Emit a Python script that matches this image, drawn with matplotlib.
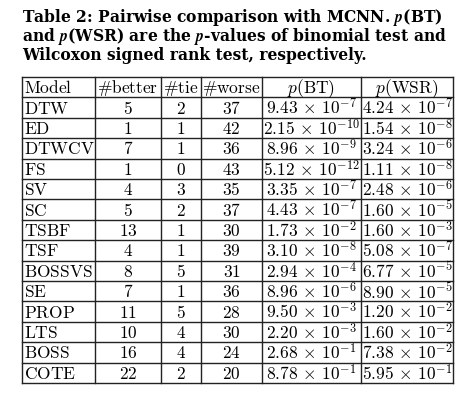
import matplotlib
matplotlib.use("Agg")
import matplotlib.pyplot as plt

plt.rcParams["mathtext.fontset"] = "cm"

models = ["DTW", "ED", "DTWCV", "FS", "SV", "SC", "TSBF", "TSF", "BOSSVS",
          "SE", "PROP", "LTS", "BOSS", "COTE"]
better = [5, 1, 7, 1, 4, 5, 13, 4, 8, 7, 11, 10, 16, 22]
tie = [2, 1, 1, 0, 3, 2, 1, 1, 5, 1, 5, 4, 4, 2]
worse = [37, 42, 36, 43, 35, 37, 30, 39, 31, 36, 28, 30, 24, 20]
p_bt = [("9.43", -7), ("2.15", -10), ("8.96", -9), ("5.12", -12), ("3.35", -7),
        ("4.43", -7), ("1.73", -2), ("3.10", -8), ("2.94", -4), ("8.96", -6),
        ("9.50", -3), ("2.20", -3), ("2.68", -1), ("8.78", -1)]
p_wsr = [("4.24", -7), ("1.54", -8), ("3.24", -6), ("1.11", -8), ("2.48", -6),
         ("1.60", -5), ("1.60", -3), ("5.08", -7), ("6.77", -5), ("8.90", -5),
         ("1.20", -2), ("1.60", -2), ("7.38", -2), ("5.95", -1)]
title_lines = [
    r"Table 2: Pairwise comparison with MCNN. $\boldsymbol{p}$(BT)",
    r"and $\boldsymbol{p}$(WSR) are the $\boldsymbol{p}$-values of binomial test and",
    r"Wilcoxon signed rank test, respectively.",
]
headers = ["Model", "better", "tie", "worse", "BT", "WSR"]

fig = plt.figure(figsize=(4.73, 4.15), dpi=100)
ax = fig.add_axes([0, 0, 1, 1])
ax.set_xlim(0, 473)
ax.set_ylim(415, 0)
ax.axis("off")

# title (bold)
for i, line in enumerate(title_lines):
    ax.text(22, 22 + i * 19, line, fontsize=11.2, fontweight="bold",
            family="DejaVu Serif", va="baseline", ha="left")

# grid geometry (pixels)
xs = [22, 95, 161, 201, 262, 361, 453]
top, rh = 77, 20.4
nrows = len(models) + 1
ys = [top + k * rh for k in range(nrows + 1)]
for x in xs:
    ax.plot([x, x], [ys[0], ys[-1]], color="#222222", lw=1.0)
for y in ys:
    ax.plot([xs[0], xs[-1]], [y, y], color="#222222", lw=1.0)

fs = 12.5
def cell(col, row, s, ha="center"):
    y = ys[row] + rh / 2 + 1
    if ha == "left":
        x = xs[col] + 2
    else:
        x = (xs[col] + xs[col + 1]) / 2
    ax.text(x, y, s, fontsize=fs, ha=ha, va="center")

for c, h in enumerate(headers):
    if c == 0:
        cell(0, 0, r"$\mathrm{%s}$" % h, ha="left")
    elif c >= 4:
        cell(c, 0, r"$p\mathrm{(%s)}$" % h)
    else:
        cell(c, 0, r"$\#\mathrm{%s}$" % h)

for r in range(len(models)):
    cell(0, r + 1, r"$\mathrm{%s}$" % models[r], ha="left")
    cell(1, r + 1, r"$%d$" % better[r])
    cell(2, r + 1, r"$%d$" % tie[r])
    cell(3, r + 1, r"$%d$" % worse[r])
    cell(4, r + 1, r"$%s\,\times\,10^{%d}$" % p_bt[r])
    cell(5, r + 1, r"$%s\,\times\,10^{%d}$" % p_wsr[r])

fig.savefig("out.png", dpi=100, facecolor="white")
